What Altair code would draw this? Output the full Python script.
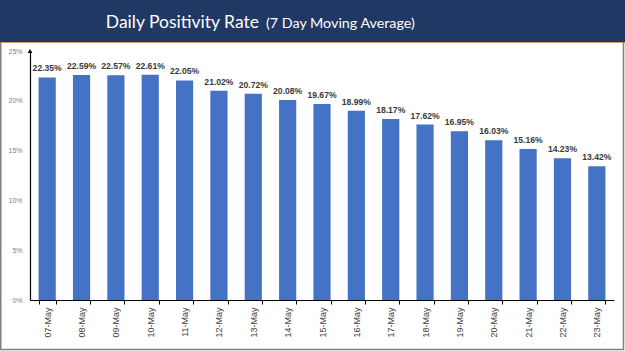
import altair as alt
import pandas as pd

dates = ["07-May", "08-May", "09-May", "10-May", "11-May", "12-May", "13-May", "14-May",
         "15-May", "16-May", "17-May", "18-May", "19-May", "20-May", "21-May", "22-May", "23-May"]
rates = [22.35, 22.59, 22.57, 22.61, 22.05, 21.02, 20.72, 20.08,
         19.67, 18.99, 18.17, 17.62, 16.95, 16.03, 15.16, 14.23, 13.42]
labels = [f"{v:.2f}%" for v in rates]

df = pd.DataFrame({"date": dates, "rate": [v / 100 for v in rates], "label": labels})
arrow_df = pd.DataFrame({"date": [dates[0]], "rate": [0.25]})

W, H = 584, 249
PL, PT = 30, 51

x = alt.X("date:N", sort=dates, title=None,
          scale=alt.Scale(paddingInner=0.5, paddingOuter=0.25),
          axis=alt.Axis(labelAngle=-90, labelAlign="right", labelBaseline="middle",
                        labelFont="Liberation Sans", labelFontSize=9, labelColor="#404040",
                        labelPadding=3, tickBand="extent", tickSize=4, tickColor="#000000",
                        domainColor="#000000", domainWidth=1.2))
y = alt.Y("rate:Q", title=None,
          scale=alt.Scale(domain=[0, 0.25], nice=False),
          axis=alt.Axis(format=".0%", values=[0, 0.05, 0.10, 0.15, 0.20, 0.25],
                        grid=False, ticks=False, labelFont="Liberation Sans",
                        labelFontSize=7, labelColor="#7f7f7f", labelPadding=8,
                        domainColor="#000000", domainWidth=1.2))

base = alt.Chart(df)

bars = base.mark_bar(color="#4472C4").encode(x=x, y=y)
text = base.mark_text(dy=-9, fontSize=8.6, fontWeight="bold", color="#3a3a3a",
                      font="Liberation Sans").encode(x=alt.X("date:N", sort=dates), y="rate:Q", text="label:N")

arrow = alt.Chart(arrow_df).mark_point(shape="triangle-up", filled=True, color="#000000",
                                       size=22, opacity=1).encode(
    x=alt.value(0), y=alt.Y("rate:Q"))

dummy = pd.DataFrame({"k": [0]})
header = alt.Chart(dummy).mark_rect(color="#1F3864").encode(
    x=alt.value(-PL), x2=alt.value(625 - PL), y=alt.value(-PT), y2=alt.value(42 - PT))
orange = alt.Chart(dummy).mark_rule(color="#C9A070", strokeWidth=1.2).encode(
    x=alt.value(-PL), x2=alt.value(625 - PL), y=alt.value(42.5 - PT))
border_l = alt.Chart(dummy).mark_rule(color="#808080", strokeWidth=1.5).encode(
    x=alt.value(0.75 - PL), y=alt.value(42 - PT), y2=alt.value(349.5 - PT))
border_r = alt.Chart(dummy).mark_rule(color="#808080", strokeWidth=1.5).encode(
    x=alt.value(623.5 - PL), y=alt.value(42 - PT), y2=alt.value(349.5 - PT))
border_b = alt.Chart(dummy).mark_rule(color="#808080", strokeWidth=1.5).encode(
    x=alt.value(-PL), x2=alt.value(624 - PL), y=alt.value(349.5 - PT))

title1 = alt.Chart(dummy).mark_text(text="Daily Positivity Rate", font="Lato", fontSize=17.5,
                                    color="#FFFFFF", align="right", baseline="alphabetic").encode(
    x=alt.value(259 - PL), y=alt.value(28 - PT))
title2 = alt.Chart(dummy).mark_text(text="(7 Day Moving Average)", font="Lato", fontSize=14.3,
                                    color="#FFFFFF", align="left", baseline="alphabetic").encode(
    x=alt.value(266 - PL), y=alt.value(28 - PT))

chart = alt.layer(header, orange, border_l, border_r, border_b, title1, title2,
                  bars, text, arrow).properties(
    width=W, height=H,
    autosize=alt.AutoSizeParams(type="none"),
    padding={"left": PL, "top": PT, "right": 625 - PL - W, "bottom": 351 - PT - H},
    background="#FFFFFF",
).configure_view(stroke=None)

chart.save("out.html", embed_options={"renderer": "svg", "actions": False})
